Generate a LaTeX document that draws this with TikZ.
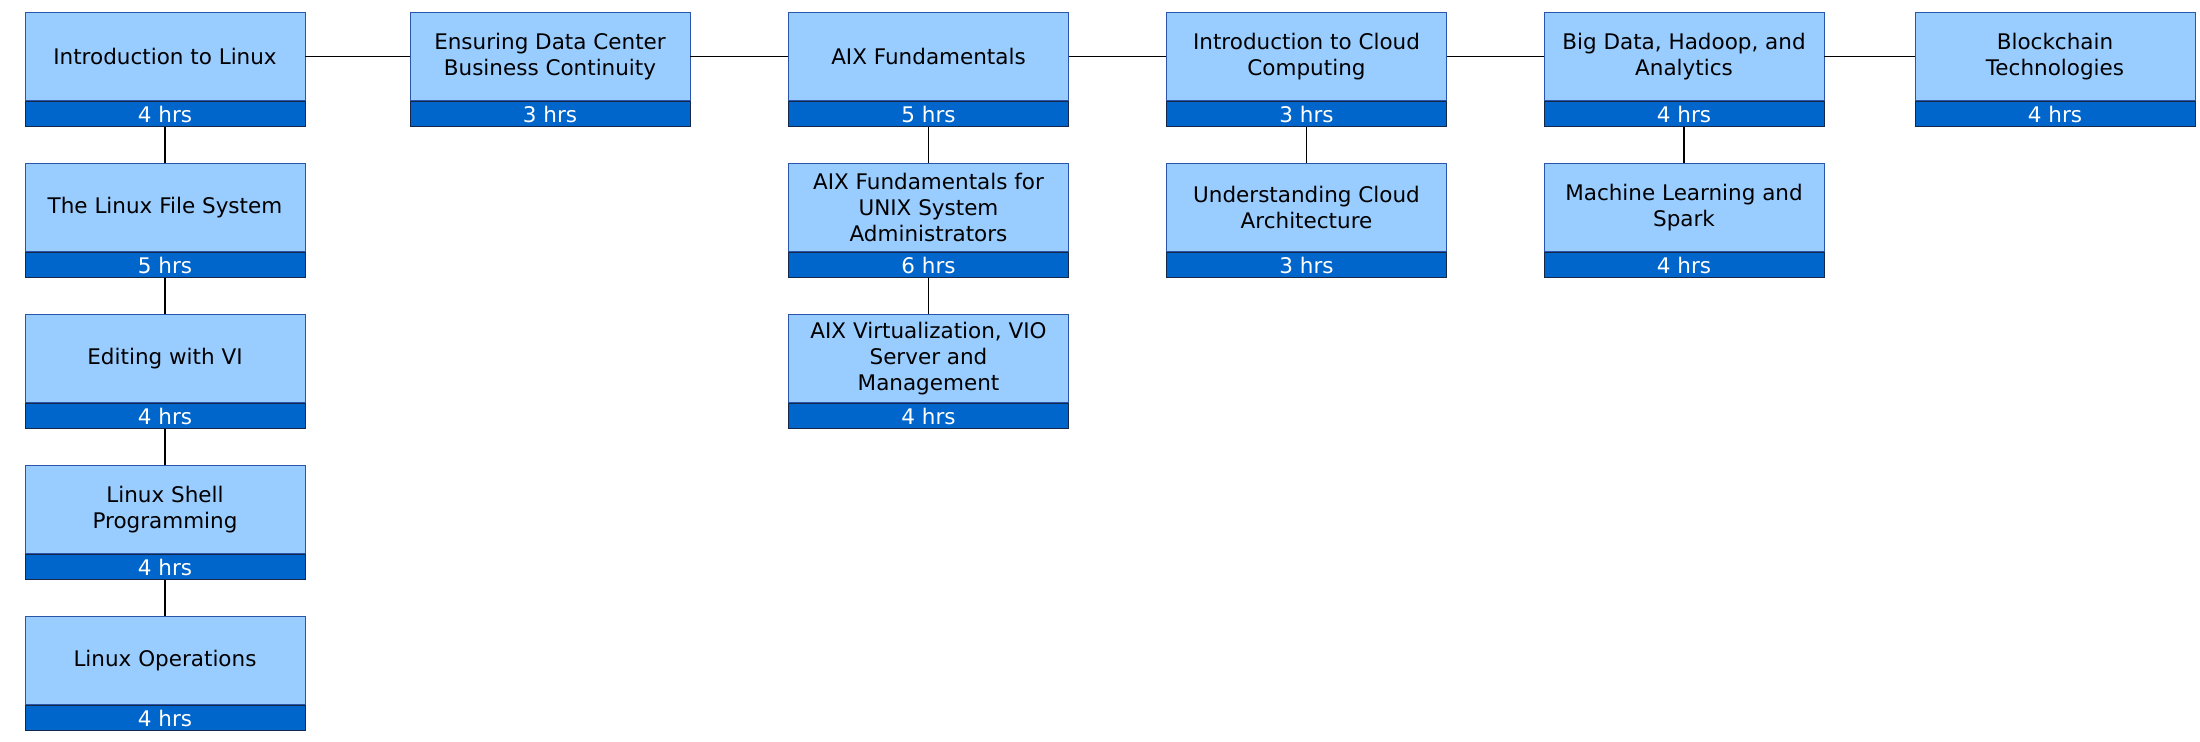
\documentclass[tikz,border=0pt]{standalone}
\usepackage{fontspec}
\setmainfont{DejaVu Sans}
\usetikzlibrary{positioning}
\definecolor{crslight}{HTML}{99CCFF}
\definecolor{crsdark}{HTML}{0066CC}
\definecolor{crsedge}{HTML}{2A55A8}
\definecolor{hrsedge}{HTML}{14284A}
\tikzset{
  course/.style={draw=crsedge,fill=crslight,minimum width=140pt,minimum height=44pt,
    inner sep=0pt,align=center,font=\fontsize{10.75}{13.2}\selectfont},
  hours/.style={draw=hrsedge,fill=crsdark,text=white,minimum width=140pt,minimum height=12.75pt,
    inner sep=0pt,font=\fontsize{10.75}{13.2}\selectfont},
  link/.style={line width=0.65pt}
}

\begin{document}
\begin{tikzpicture}[x=0.5pt,y=-0.5pt]
\useasboundingbox (0,0) rectangle (2200,741);
% linux track
\node[course] (lnx) at (165,56.5) {Introduction to Linux};
\node[hours,below=0pt of lnx] (lnx-h) {4 hrs};
\node[course] (lfs) at (165,207.5) {The Linux File System};
\node[hours,below=0pt of lfs] (lfs-h) {5 hrs};
\node[course] (vi) at (165,358.5) {Editing with VI};
\node[hours,below=0pt of vi] (vi-h) {4 hrs};
\node[course] (shell) at (165,509.5) {Linux Shell\\Programming};
\node[hours,below=0pt of shell] (shell-h) {4 hrs};
\node[course] (ops) at (165,660.5) {Linux Operations};
\node[hours,below=0pt of ops] (ops-h) {4 hrs};
% data center
\node[course] (dcbc) at (550,56.5) {Ensuring Data Center\\Business Continuity};
\node[hours,below=0pt of dcbc] (dcbc-h) {3 hrs};
% aix track
\node[course] (aix) at (928.5,56.5) {AIX Fundamentals};
\node[hours,below=0pt of aix] (aix-h) {5 hrs};
\node[course] (aixunix) at (928.5,207.5) {AIX Fundamentals for\\UNIX System\\Administrators};
\node[hours,below=0pt of aixunix] (aixunix-h) {6 hrs};
\node[course] (aixvio) at (928.5,358.5) {AIX Virtualization, VIO\\Server and\\Management};
\node[hours,below=0pt of aixvio] (aixvio-h) {4 hrs};
% cloud track
\node[course] (cloud) at (1306.5,56.5) {Introduction to Cloud\\Computing};
\node[hours,below=0pt of cloud] (cloud-h) {3 hrs};
\node[course] (cloudarch) at (1306.5,207.5) {Understanding Cloud\\Architecture};
\node[hours,below=0pt of cloudarch] (cloudarch-h) {3 hrs};
% big data track
\node[course] (bigdata) at (1684,56.5) {Big Data, Hadoop, and\\Analytics};
\node[hours,below=0pt of bigdata] (bigdata-h) {4 hrs};
\node[course] (spark) at (1684,207.5) {Machine Learning and\\Spark};
\node[hours,below=0pt of spark] (spark-h) {4 hrs};
% blockchain
\node[course] (chain) at (2055,56.5) {Blockchain\\Technologies};
\node[hours,below=0pt of chain] (chain-h) {4 hrs};
% top row links
\draw[link] (lnx.east) -- (dcbc.west);
\draw[link] (dcbc.east) -- (aix.west);
\draw[link] (aix.east) -- (cloud.west);
\draw[link] (cloud.east) -- (bigdata.west);
\draw[link] (bigdata.east) -- (chain.west);
% column links
\draw[link] (lnx-h.south) -- (lfs.north);
\draw[link] (lfs-h.south) -- (vi.north);
\draw[link] (vi-h.south) -- (shell.north);
\draw[link] (shell-h.south) -- (ops.north);
\draw[link] (aix-h.south) -- (aixunix.north);
\draw[link] (aixunix-h.south) -- (aixvio.north);
\draw[link] (cloud-h.south) -- (cloudarch.north);
\draw[link] (bigdata-h.south) -- (spark.north);
\end{tikzpicture}
\end{document}
